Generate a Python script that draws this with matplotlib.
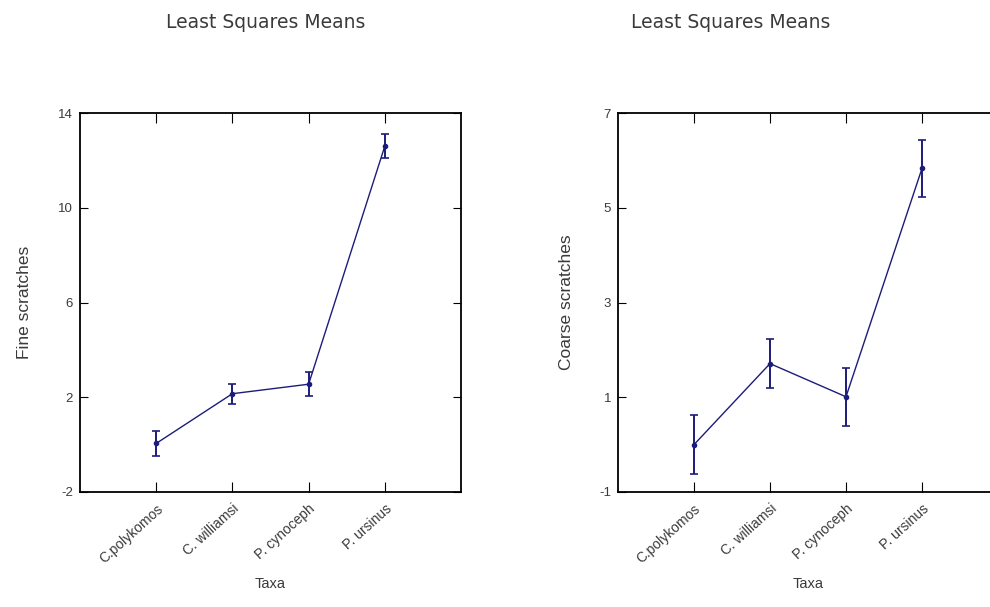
import numpy as np
import matplotlib
matplotlib.use("Agg")
import matplotlib.pyplot as plt

plt.rcParams['font.family'] = ['Liberation Sans', 'DejaVu Sans']
plt.rcParams['axes.unicode_minus'] = False

# data
taxa = ["C.polykomos", "C. williamsi", "P. cynoceph", "P. ursinus"]
fine_mean = [0.05, 2.15, 2.55, 12.6]
fine_err = [0.52, 0.42, 0.5, 0.52]
coarse_mean = [0.0, 1.71, 1.01, 5.83]
coarse_err = [0.62, 0.52, 0.61, 0.6]

fine_ticks = [-2, 2, 6, 10, 14]
coarse_ticks = [-1, 1, 3, 5, 7]

col = "#1c1c7a"
txt = "#3a3a3a"
W, H = 990, 607
fig = plt.figure(figsize=(W / 100, H / 100), dpi=100)

def panel(left, right, mean, err, ticks, ylab, ypos):
    ax = fig.add_axes([left / W, 1 - 492 / H, (right - left) / W, (492 - 113) / H])
    x = np.arange(1, len(taxa) + 1)
    ax.errorbar(x, mean, yerr=err, color=col, lw=1, marker='o', ms=3,
                capsize=3, elinewidth=1.4, capthick=1.2)
    ax.set_xlim(0, 5)
    ax.set_ylim(ticks[0], ticks[-1])
    ax.set_yticks(ticks)
    ax.set_xticks(x)
    ax.set_xticklabels(taxa, rotation=42, ha='right', rotation_mode='anchor',
                       fontsize=10, color=txt)
    ax.tick_params(axis='y', left=True, right=True, direction='in', length=6,
                   labelsize=9.5, labelcolor=txt, pad=5)
    ax.tick_params(axis='x', top=True, bottom=True, direction='in', length=7,
                   pad=7)
    for s in ax.spines.values():
        s.set_linewidth(1.3)
    ax.set_xlabel("Taxa", fontsize=10.5, color=txt, labelpad=8)
    ax.set_ylabel(ylab, fontsize=12.5, color=txt)
    ax.yaxis.set_label_coords(ypos, 0.5)
    return ax

panel(80, 461, fine_mean, fine_err, fine_ticks, "Fine scratches", -0.125)
panel(618, 998, coarse_mean, coarse_err, coarse_ticks, "Coarse scratches", -0.115)

fig.text(266 / W, 1 - 22 / H, "Least Squares Means", ha='center', va='center',
         fontsize=13.5, color=txt, family=['DejaVu Sans'])
fig.text(731 / W, 1 - 22 / H, "Least Squares Means", ha='center', va='center',
         fontsize=13.5, color=txt, family=['DejaVu Sans'])

fig.savefig("out.png", dpi=100)
